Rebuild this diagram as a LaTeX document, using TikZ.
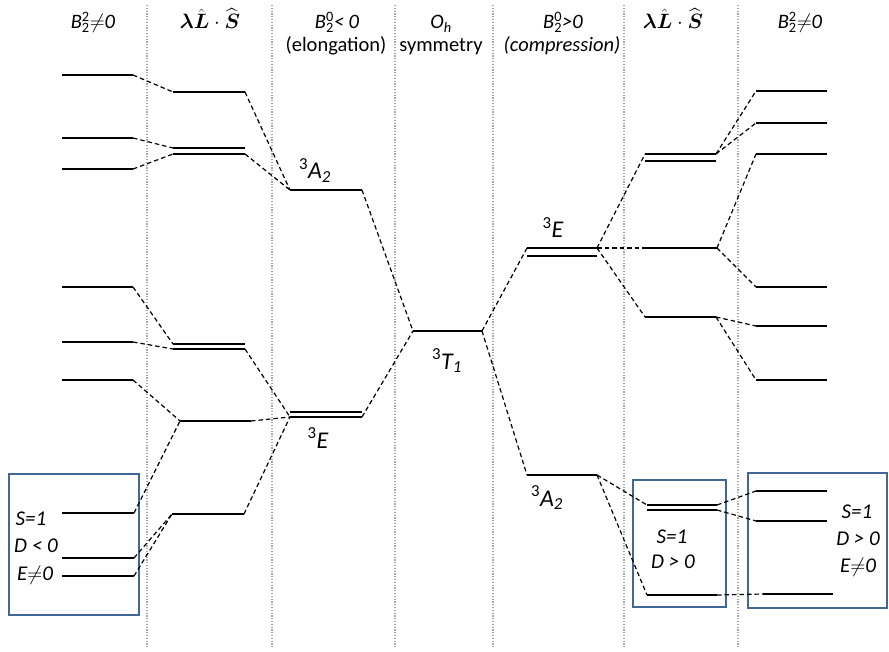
\documentclass[tikz,border=0pt]{standalone}
\usepackage{amsmath}
\usepackage{fontspec}
\setmainfont{Carlito}
\definecolor{boxblue}{HTML}{41679A}
\tikzset{
  level/.style={line width=2.7pt, black},
  conn/.style={line width=1.2pt, dash pattern=on 4.5pt off 3pt, black},
  divider/.style={line width=2pt, gray!70, dash pattern=on 1.2pt off 1.6pt},
  frame/.style={draw=boxblue, line width=2pt},
  head/.style={font=\fontsize{20.5}{23}\selectfont, anchor=base, inner sep=0pt},
  term/.style={font=\fontsize{24}{27}\selectfont\itshape, anchor=base, inner sep=0pt},
  param/.style={font=\fontsize{21}{24}\selectfont\itshape, anchor=base, inner sep=0pt},
}
% an energy level: named end points (name-l, name-r) and the bar between them
\newcommand{\lvl}[4]{%
  \coordinate (#1-l) at (#2,#4);
  \coordinate (#1-r) at (#3,#4);
  \draw[level] (#1-l) -- (#1-r);}
\newcommand{\LS}{$\boldsymbol{\lambda}\hat{\boldsymbol{L}}\cdot\widehat{\boldsymbol{S}}$}
\newcommand{\Bq}[2]{\textit{B}\rlap{\textsuperscript{#1}}\textsubscript{#2}}
\begin{document}
\begin{tikzpicture}[x=1pt,y=-1pt]
\useasboundingbox (0,0) rectangle (889,652);

% column dividers
\foreach \xd/\nm in {147/d1,272/d2,395/d3,493/d4,624/d5,738/d6}{
  \coordinate (\nm-t) at (\xd,5);
  \coordinate (\nm-b) at (\xd,648);
  \draw[divider] (\nm-t) -- (\nm-b);
}

% column headings
\node[head] (h1) at (93,29) {\Bq{2}{2}$\neq$\textit{0}};
\node[head] (h2) at (210,29) {\LS};
\node[head] (h3) at (337,29) {\Bq{0}{2}\textit{< 0}};
\node[head] (h3b) at (336,52) {(elongation)};
\node[head] (h4) at (441,29) {\textit{O}\textsubscript{\textit{h}}};
\node[head] (h4b) at (441,52) {symmetry};
\node[head] (h5) at (563,29) {\Bq{0}{2}\textit{>0}};
\node[head] (h5b) at (562,52) {\textit{(compression)}};
\node[head] (h6) at (673,29) {\LS};
\node[head] (h7) at (800,29) {\Bq{2}{2}$\neq$\textit{0}};

% parameter boxes
\draw[frame] (9,474) rectangle (139,615);
\draw[frame] (633,480) rectangle (726,607);
\draw[frame] (748,473) rectangle (887,608);

% left: rhombic splitting (elongation)
\lvl{a1}{62}{133}{75}
\lvl{a2}{62}{133}{138}
\lvl{a3}{62}{133}{169}
\lvl{a4}{62}{133}{287}
\lvl{a5}{62}{133}{342}
\lvl{a6}{62}{133}{380}
\lvl{a7}{62}{134}{513}
\lvl{a8}{62}{134}{558}
\lvl{a9}{62}{134}{576}

% left: spin-orbit coupling
\lvl{b1}{173}{245}{92}
\lvl{b2u}{173}{245}{148}
\lvl{b2d}{173}{245}{154}
\lvl{b3u}{173}{245}{344}
\lvl{b3d}{173}{245}{349}
\lvl{b4}{180}{251}{421}
\lvl{b5}{172}{244}{514}

% tetragonal elongation
\lvl{cA}{290}{362}{190}
\lvl{cEu}{290}{362}{412}
\lvl{cEd}{290}{362}{417}

% octahedral term
\lvl{t}{413}{482}{331}

% tetragonal compression
\lvl{eEu}{527}{597}{248}
\lvl{eEd}{527}{597}{256}
\lvl{eA}{527}{597}{475}

% right: spin-orbit coupling
\lvl{fu}{645}{716}{154}
\lvl{fd}{645}{716}{161}
\lvl{f2}{645}{717}{248}
\lvl{f3}{645}{716}{317}
\lvl{fbu}{647}{717}{505}
\lvl{fbd}{647}{717}{510}
\lvl{fb}{647}{717}{595}

% right: rhombic splitting (compression)
\lvl{g1}{756}{827}{91}
\lvl{g2}{756}{827}{123}
\lvl{g3}{756}{827}{154}
\lvl{g4}{756}{827}{287}
\lvl{g5}{756}{827}{326}
\lvl{g6}{756}{827}{380}
\lvl{g7}{756}{827}{491}
\lvl{g8}{756}{827}{521}
\lvl{g9}{763}{833}{594}

% correlation lines
\draw[conn] (a1-r) -- (b1-l);
\draw[conn] (a2-r) -- (b2u-l);
\draw[conn] (a3-r) -- (b2d-l);
\draw[conn] (a4-r) -- (b3u-l);
\draw[conn] (a5-r) -- (b3d-l);
\draw[conn] (a6-r) -- (b4-l);
\draw[conn] (a7-r) -- (b4-l);
\draw[conn] (a8-r) -- (b5-l);
\draw[conn] (a9-r) -- (b5-l);

\draw[conn] (b1-r) -- (cA-l);
\draw[conn] (b2d-r) -- (cA-l);
\draw[conn] (b3d-r) -- (cEd-l);
\draw[conn] (b4-r) -- (cEd-l);
\draw[conn] (b5-r) -- (cEd-l);

\draw[conn] (cA-r) -- (t-l);
\draw[conn] (cEd-r) -- (t-l);
\draw[conn] (t-r) -- (eEu-l);
\draw[conn] (t-r) -- (eA-l);

\draw[conn] (eEu-r) -- (fu-l);
\draw[conn] (eEu-r) -- (f2-l);
\draw[conn] (eEu-r) -- (f3-l);
\draw[conn] (eA-r) -- (fbu-l);
\draw[conn] (eA-r) -- (fb-l);

\draw[conn] (fu-r) -- (g1-l);
\draw[conn] (fu-r) -- (g2-l);
\draw[conn] (f2-r) -- (g3-l);
\draw[conn] (f2-r) -- (g4-l);
\draw[conn] (f3-r) -- (g5-l);
\draw[conn] (f3-r) -- (g6-l);
\draw[conn] (fbu-r) -- (g7-l);
\draw[conn] (fbd-r) -- (g8-l);
\draw[conn] (fb-r) -- (g9-l);

% term symbols
\node[term] (tA1) at (315,179) {\textsuperscript{\upshape 3}A\textsubscript{2}};
\node[term] (tE1) at (318,448) {\textsuperscript{\upshape 3}E};
\node[term] (tT) at (447,369) {\textsuperscript{\upshape 3}T\textsubscript{1}};
\node[term] (tE2) at (553,238) {\textsuperscript{\upshape 3}E};
\node[term] (tA2) at (547,506) {\textsuperscript{\upshape 3}A\textsubscript{2}};

% spin Hamiltonian parameters
\node[param] (p1) at (31,525) {S=1};
\node[param] (p2) at (36,552) {D < 0};
\node[param] (p3) at (35,580) {E$\neq$0};
\node[param] (p4) at (672,543) {S=1};
\node[param] (p5) at (673,568) {D > 0};
\node[param] (p6) at (857,518) {S=1};
\node[param] (p7) at (858,545) {D > 0};
\node[param] (p8) at (858,572) {E$\neq$0};
\end{tikzpicture}
\end{document}
